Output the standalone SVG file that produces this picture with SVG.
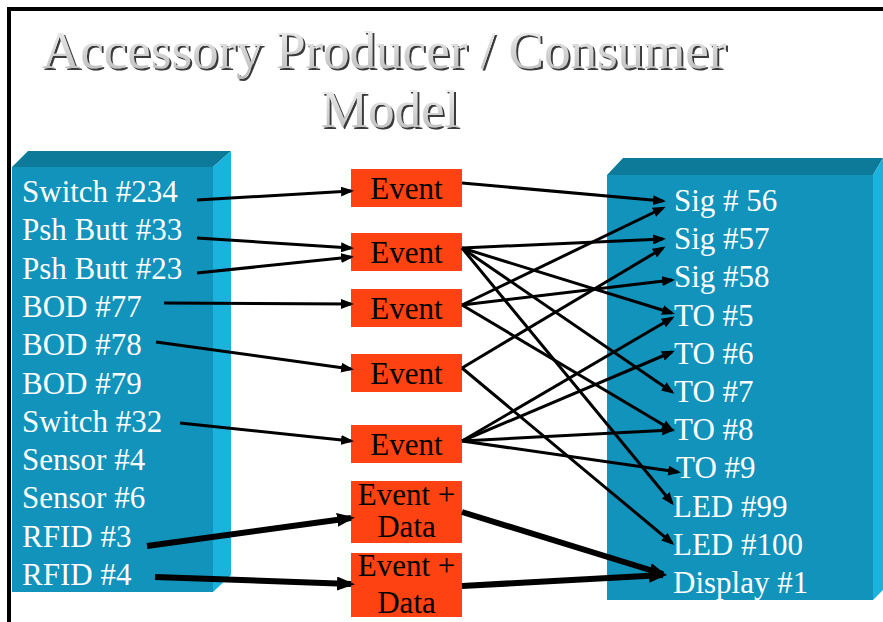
<svg xmlns="http://www.w3.org/2000/svg" width="883" height="622" viewBox="0 0 883 622">
<defs>
<linearGradient id="tg" x1="0" y1="0" x2="0" y2="1">
<stop offset="0" stop-color="#f4f4f4"/>
<stop offset="1" stop-color="#b8b8b8"/>
</linearGradient>
<filter id="shadow" x="-5%" y="-20%" width="110%" height="150%">
<feDropShadow dx="2" dy="2" stdDeviation="0.6" flood-color="#3a3a3a" flood-opacity="1"/>
</filter>
<marker id="ah" markerUnits="userSpaceOnUse" markerWidth="13" markerHeight="10" refX="10" refY="5" orient="auto">
<path d="M0,0 L13,5 L0,10 z" fill="#000"/>
</marker>
<marker id="ahb" markerUnits="userSpaceOnUse" markerWidth="18" markerHeight="14" refX="14" refY="7" orient="auto">
<path d="M0,0 L18,7 L0,14 z" fill="#000"/>
</marker>
<style>
text{font-family:'Liberation Serif','Times New Roman',serif;}
.title{font-size:53px;fill:url(#tg);filter:url(#shadow);}
.item{font-size:31px;fill:#fff;}
.ev{fill:#ff4212;}
.evt{font-size:31px;fill:#000;text-anchor:middle;}
.front{fill:#1193bb;}
.top{fill:#0c7a98;}
.side{fill:#19b3dd;}
.c{stroke:#000;stroke-width:3;fill:none;marker-end:url(#ah);}
.cb{stroke:#000;stroke-width:6;fill:none;marker-end:url(#ahb);}
</style>
</defs>
<rect width="883" height="622" fill="#fff"/>
<path d="M9,622 V9 H883" fill="none" stroke="#000" stroke-width="4"/>

<g id="title">
<text class="title" x="42" y="68">Accessory Producer / Consumer</text>
<text class="title" x="390" y="127" text-anchor="middle">Model</text>
</g>

<g id="producers">
<polygon class="top" points="12,167 28,151 231,151 213,167"/>
<polygon class="side" points="213,167 231,151 231,575 213,592"/>
<rect class="front" x="12" y="167" width="201" height="425"/>
<text class="item" x="22" y="202">Switch #234</text>
<text class="item" x="22" y="240.3">Psh Butt #33</text>
<text class="item" x="22" y="278.6">Psh Butt #23</text>
<text class="item" x="22" y="316.9">BOD #77</text>
<text class="item" x="22" y="355.2">BOD #78</text>
<text class="item" x="22" y="393.5">BOD #79</text>
<text class="item" x="22" y="431.8">Switch #32</text>
<text class="item" x="22" y="470.1">Sensor #4</text>
<text class="item" x="22" y="508.4">Sensor #6</text>
<text class="item" x="22" y="546.7">RFID #3</text>
<text class="item" x="22" y="585">RFID #4</text>
</g>

<g id="consumers">
<polygon class="top" points="607,175 623,158 883,158 873,175"/>
<polygon class="side" points="873,175 883,158 883,590 873,600"/>
<rect class="front" x="607" y="175" width="266" height="425"/>
<text class="item" x="674" y="211">Sig # 56</text>
<text class="item" x="674" y="249.2">Sig #57</text>
<text class="item" x="674" y="287.4">Sig #58</text>
<text class="item" x="674" y="325.6">TO #5</text>
<text class="item" x="674" y="363.8">TO #6</text>
<text class="item" x="674" y="402">TO #7</text>
<text class="item" x="674" y="440.2">TO #8</text>
<text class="item" x="676" y="478.4">TO #9</text>
<text class="item" x="673" y="516.6">LED #99</text>
<text class="item" x="673" y="554.8">LED #100</text>
<text class="item" x="673" y="593">Display #1</text>
</g>

<g id="event1"><rect class="ev" x="351" y="169" width="111" height="38"/><text class="evt" x="406.5" y="199">Event</text></g>
<g id="event2"><rect class="ev" x="351" y="233" width="111" height="38"/><text class="evt" x="406.5" y="263">Event</text></g>
<g id="event3"><rect class="ev" x="351" y="289" width="111" height="38"/><text class="evt" x="406.5" y="319">Event</text></g>
<g id="event4"><rect class="ev" x="351" y="354" width="111" height="38"/><text class="evt" x="406.5" y="384">Event</text></g>
<g id="event5"><rect class="ev" x="351" y="425" width="111" height="38"/><text class="evt" x="406.5" y="455">Event</text></g>
<g id="event6"><rect class="ev" x="351" y="481" width="111" height="62"/><text class="evt" x="406.5" y="505">Event +</text><text class="evt" x="406.5" y="537">Data</text></g>
<g id="event7"><rect class="ev" x="351" y="553" width="111" height="64"/><text class="evt" x="406.5" y="576">Event +</text><text class="evt" x="406.5" y="613">Data</text></g>

<g id="connectors">
<line class="c" x1="197" y1="200" x2="351" y2="191"/>
<line class="c" x1="197" y1="238" x2="351" y2="248"/>
<line class="c" x1="197" y1="273" x2="351" y2="257"/>
<line class="c" x1="164" y1="303" x2="351" y2="304"/>
<line class="c" x1="156" y1="342" x2="351" y2="369"/>
<line class="c" x1="180" y1="423" x2="351" y2="441"/>
<line class="cb" x1="147" y1="546" x2="351" y2="518"/>
<line class="cb" x1="155" y1="577" x2="351" y2="584"/>

<line class="c" x1="462" y1="183" x2="663" y2="201"/>
<line class="c" x1="462" y1="248" x2="663" y2="239"/>
<line class="c" x1="462" y1="248" x2="672" y2="313"/>
<line class="c" x1="462" y1="248" x2="672" y2="392"/>
<line class="c" x1="462" y1="248" x2="672" y2="503"/>
<line class="c" x1="462" y1="305" x2="663" y2="208"/>
<line class="c" x1="462" y1="305" x2="672" y2="280"/>
<line class="c" x1="462" y1="305" x2="672" y2="430"/>
<line class="c" x1="462" y1="368" x2="663" y2="248"/>
<line class="c" x1="462" y1="368" x2="672" y2="543"/>
<line class="c" x1="462" y1="441" x2="672" y2="318"/>
<line class="c" x1="462" y1="441" x2="672" y2="352"/>
<line class="c" x1="462" y1="441" x2="672" y2="430"/>
<line class="c" x1="462" y1="441" x2="678" y2="472"/>
<line class="cb" x1="462" y1="512" x2="663" y2="574"/>
<line class="cb" x1="462" y1="586" x2="663" y2="575"/>
</g>
</svg>
